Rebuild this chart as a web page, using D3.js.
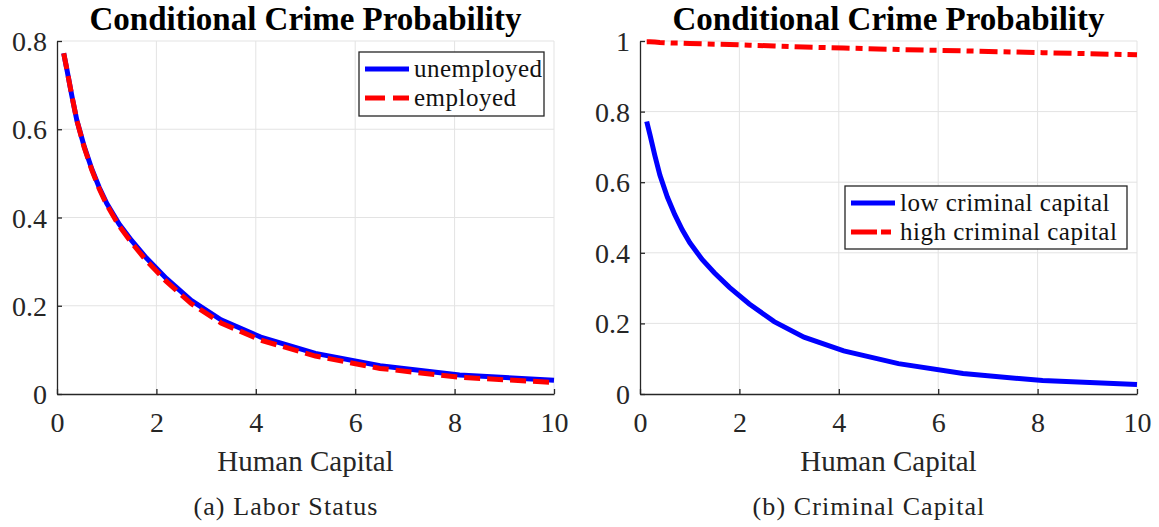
<!DOCTYPE html>
<html>
<head>
<meta charset="utf-8">
<script src="https://cdn.jsdelivr.net/npm/d3@7"></script>
<style>
  body { margin: 0; background: #fff; }
  svg text { font-family: "Liberation Serif", "Times New Roman", serif !important; }
</style>
</head>
<body>
<svg width="1159" height="527"></svg>
<script>
// data
const humanCapital = [0.135, 0.2, 0.3, 0.4, 0.55, 0.7, 0.85, 1.0, 1.25, 1.5, 1.8, 2.2, 2.7, 3.3, 4.1, 5.2, 6.5, 8.1, 10];
const unemployed   = [0.772, 0.735, 0.675, 0.62, 0.56, 0.51, 0.468, 0.432, 0.385, 0.348, 0.308, 0.262, 0.212, 0.168, 0.129, 0.092, 0.064, 0.043, 0.031];
const employed     = [0.772, 0.735, 0.675, 0.62, 0.558, 0.508, 0.465, 0.429, 0.381, 0.343, 0.302, 0.255, 0.205, 0.161, 0.122, 0.086, 0.058, 0.038, 0.026];
const lowCriminal  = [0.772, 0.735, 0.675, 0.62, 0.558, 0.508, 0.465, 0.429, 0.381, 0.343, 0.302, 0.255, 0.205, 0.161, 0.122, 0.086, 0.058, 0.038, 0.027];
const highCriminal = [0.998, 0.998, 0.997, 0.996, 0.995, 0.994, 0.994, 0.993, 0.992, 0.991, 0.990, 0.988, 0.986, 0.983, 0.980, 0.976, 0.972, 0.967, 0.961];

const xTicks = [0, 2, 4, 6, 8, 10];
const yTicksA = [0, 0.2, 0.4, 0.6, 0.8];
const yTicksB = [0, 0.2, 0.4, 0.6, 0.8, 1];

const serif = '"Liberation Serif", "Times New Roman", serif';
const svg = d3.select("svg");

function label(g, x, y, size, txt) {
  return g.append("text")
    .attr("x", x).attr("y", y)
    .attr("font-family", serif)
    .attr("font-size", size)
    .attr("fill", "#262626")
    .text(txt);
}

function panel(opts) {
  const g = svg.append("g");
  const x = d3.scaleLinear().domain([0, 10]).range([opts.left, opts.right]);
  const y = d3.scaleLinear().domain([0, opts.ymax]).range([394, 41]);

  // grid
  g.append("g").selectAll("line")
    .data(xTicks.slice(1))
    .join("line")
    .attr("x1", d => x(d)).attr("x2", d => x(d))
    .attr("y1", y(0)).attr("y2", y(opts.ymax))
    .style("stroke", "#e3e3e3").style("stroke-width", 1);
  g.append("g").selectAll("line")
    .data(opts.yTicks.slice(1))
    .join("line")
    .attr("x1", x(0)).attr("x2", x(10))
    .attr("y1", d => y(d)).attr("y2", d => y(d))
    .style("stroke", "#e3e3e3").style("stroke-width", 1);

  // axes, ticks pointing in
  const ax = g.append("g")
    .attr("transform", `translate(0,${y(0)})`)
    .call(d3.axisBottom(x).tickValues(xTicks).tickSize(-5).tickSizeOuter(0).tickFormat(d3.format("~g")));
  ax.selectAll("text").attr("y", 38).attr("dy", null);

  const ay = g.append("g")
    .attr("transform", `translate(${x(0)},0)`)
    .call(d3.axisLeft(y).tickValues(opts.yTicks).tickSize(-5).tickSizeOuter(0).tickPadding(10).tickFormat(d3.format("~g")));
  ay.selectAll("text").attr("dy", "0.34em");

  [ax, ay].forEach(a => a.attr("font-family", serif).attr("font-size", 28));
  g.selectAll(".tick text").attr("fill", "#262626");
  g.selectAll(".domain, .tick line").style("stroke", "#262626").style("stroke-width", 1.3);

  // curves
  const line = d3.line().x(d => x(d[0])).y(d => y(d[1]));
  opts.series.forEach(s => {
    g.append("path")
      .attr("d", line(humanCapital.map((h, i) => [h, s.values[i]])))
      .attr("fill", "none")
      .style("stroke", s.color)
      .style("stroke-width", 5)
      .style("stroke-dasharray", s.dash || null);
  });

  // title and labels
  const cx = (opts.left + opts.right) / 2;
  label(g, cx, 30, 33, "Conditional Crime Probability")
    .attr("text-anchor", "middle").attr("font-weight", "bold").attr("fill", "#000");
  label(g, cx, 471, 29, "Human Capital").attr("text-anchor", "middle");
  label(g, opts.captionX, 515, 26, opts.caption)
    .attr("text-anchor", "middle").attr("letter-spacing", 1.1).attr("fill", "#222");

  // legend
  const lg = opts.legend;
  g.append("rect")
    .attr("x", lg.x).attr("y", lg.y).attr("width", lg.w).attr("height", lg.h)
    .style("fill", "#fff").style("stroke", "#262626").style("stroke-width", 1.3);
  opts.series.forEach((s, i) => {
    const cy = lg.rowY[i];
    g.append("line")
      .attr("x1", lg.x + 6).attr("x2", lg.x + 50)
      .attr("y1", cy).attr("y2", cy)
      .style("stroke", s.color).style("stroke-width", 5)
      .style("stroke-dasharray", s.legendDash || null);
    label(g, lg.x + 55, cy, 25, s.name)
      .attr("dy", "0.3em").attr("letter-spacing", 0.5).attr("fill", "#111");
  });
}

panel({
  left: 57, right: 554, ymax: 0.8, yTicks: yTicksA,
  caption: "(a) Labor Status", captionX: 286,
  series: [
    {name: "unemployed", values: unemployed, color: "#0000ff"},
    {name: "employed", values: employed, color: "#ff0000", dash: "16,7", legendDash: "20,8"}
  ],
  legend: {x: 359, y: 52, w: 185, h: 64, rowY: [69, 98]}
});

panel({
  left: 640, right: 1137, ymax: 1, yTicks: yTicksB,
  caption: "(b) Criminal Capital", captionX: 869,
  series: [
    {name: "low criminal capital", values: lowCriminal, color: "#0000ff"},
    {name: "high criminal capital", values: highCriminal, color: "#ff0000", dash: "18,6,7,6", legendDash: "26,4,10,6"}
  ],
  legend: {x: 845, y: 186, w: 282, h: 63, rowY: [203, 232]}
});
</script>
</body>
</html>
